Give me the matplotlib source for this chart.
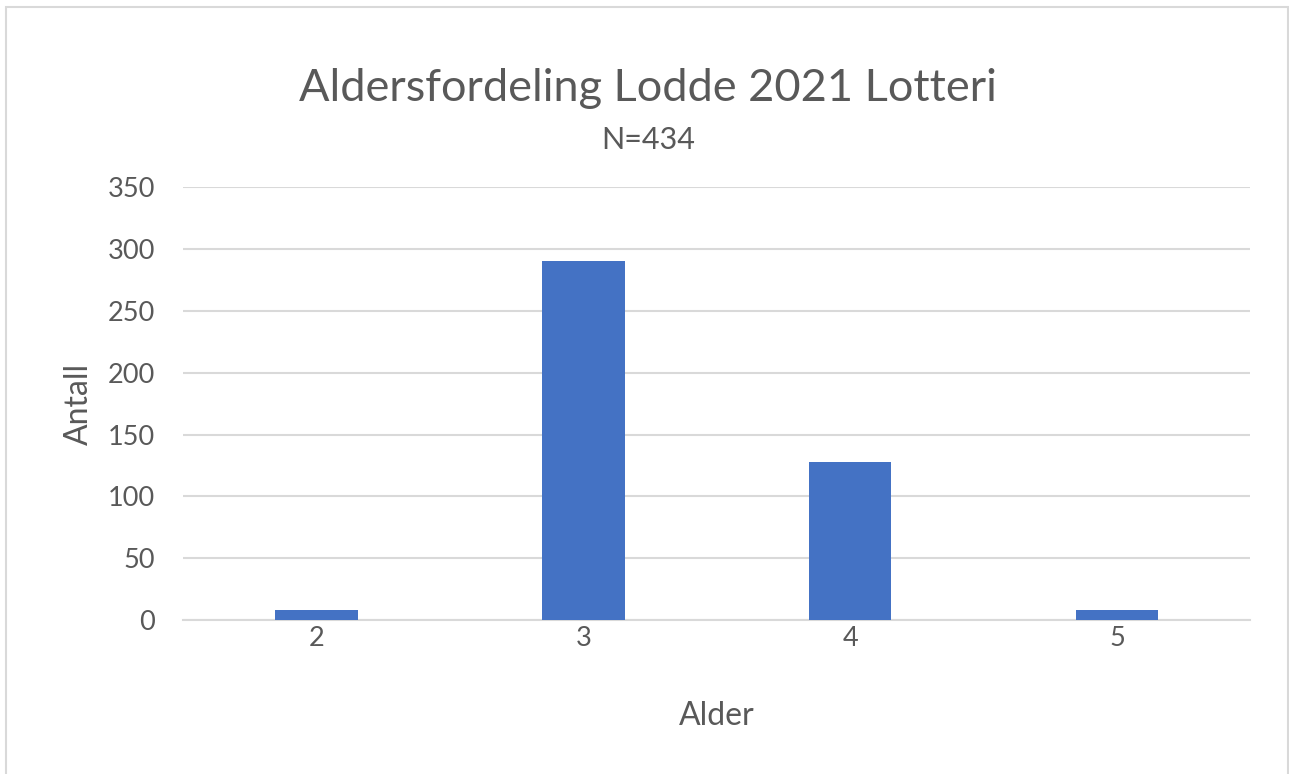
import matplotlib.pyplot as plt
from matplotlib.patches import Rectangle

# Data
ages = ['2', '3', '4', '5']
counts = [8, 290, 128, 8]

plt.rcParams['font.family'] = ['Lato', 'DejaVu Sans']
grey = '#595959'

fig = plt.figure(figsize=(12.89, 7.74), dpi=100)
ax = fig.add_axes([0.142, 0.199, 0.828, 0.559])

ax.bar(ages, counts, width=0.31, color='#4472c4', zorder=3)

ax.set_ylim(0, 350)
ax.set_yticks(range(0, 351, 50))
ax.set_xlim(-0.5, 3.5)
ax.grid(axis='y', color='#d9d9d9', linewidth=1.5, zorder=0)
for s in ['top', 'right', 'left']:
    ax.spines[s].set_visible(False)
ax.spines['bottom'].set_color('#d9d9d9')
ax.spines['bottom'].set_linewidth(1.5)
ax.tick_params(length=0, labelsize=19.5, colors=grey)
ax.tick_params(axis='y', pad=20)
ax.tick_params(axis='x', pad=4)

ax.set_xlabel('Alder', fontsize=23, color=grey, labelpad=36)
ax.set_ylabel('Antall', fontsize=23, color=grey, labelpad=10)

fig.text(0.503, 0.886, 'Aldersfordeling Lodde 2021 Lotteri', ha='center', va='center',
         fontsize=32.5, color=grey)
fig.text(0.503, 0.819, 'N=434', ha='center', va='center', fontsize=22, color=grey)

# light frame around the chart
fig.patches.append(Rectangle((6 / 1289, -0.05), 1282 / 1289, 1.05 - 7 / 774,
                             transform=fig.transFigure, fill=False,
                             edgecolor='#d9d9d9', linewidth=1.5))

fig.savefig('out.png', dpi=100)
